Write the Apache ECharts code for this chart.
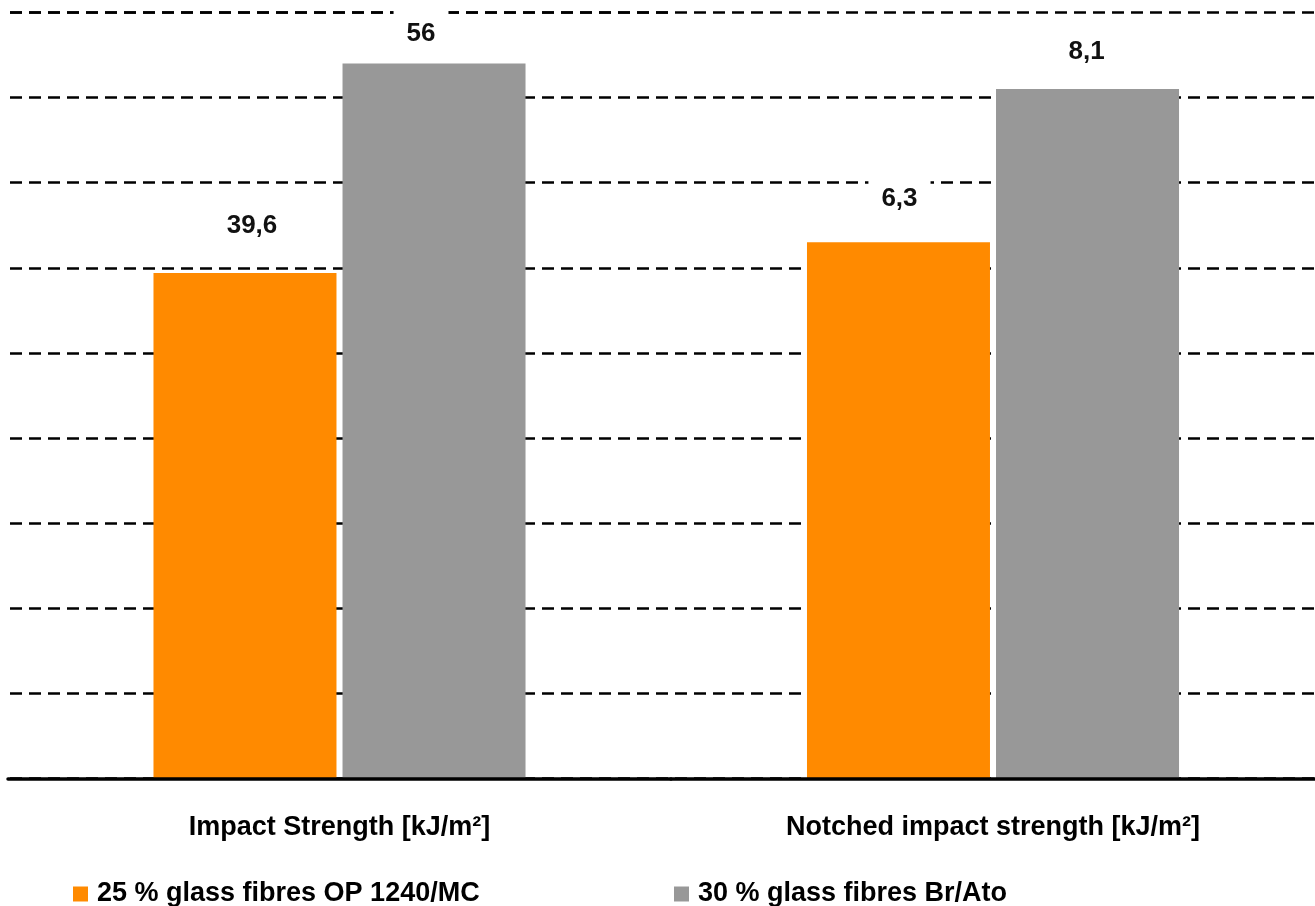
<!DOCTYPE html>
<html>
<head>
<meta charset="utf-8">
<title>Impact strength comparison</title>
<script src="https://cdn.jsdelivr.net/npm/echarts@6/dist/echarts.min.js"></script>
<style>
  html, body { margin: 0; padding: 0; background: #ffffff; }
  #chart { width: 1315px; height: 906px; }
</style>
</head>
<body>
<div id="chart"></div>
<script>
// Test categories (each one has its own value scale)
const categories = ['Impact Strength [kJ/m²]', 'Notched impact strength [kJ/m²]'];
// Materials
const seriesNames = ['25 % glass fibres OP 1240/MC', '30 % glass fibres Br/Ato'];
// Measured values per category
const op1240Values = [39.6, 6.3];
const brAtoValues = [56, 8.1];
// Upper bound of the value scale for each category (9 gridline steps)
const scaleMax = [60, 9];

const FONT = "'Liberation Sans', Arial, sans-serif";
const ORANGE = '#ff8a00';
const GREY = '#989898';

const fmt = p => String(p.value).replace('.', ',');

function valueLabel(distance, dx) {
  return {
    show: true,
    position: 'top',
    distance: distance,
    offset: [dx, 0],
    formatter: fmt,
    color: '#111',
    fontFamily: FONT,
    fontWeight: 'bold',
    fontSize: 26,
    lineHeight: 30,
    backgroundColor: '#ffffff',
    padding: [9, 13, 0, 13]
  };
}

// Two side-by-side plot areas sharing one baseline
const grids = [
  { left: 8, width: 663, top: 12.5, bottom: 127.5 },
  { left: 671, width: 657, top: 12.5, bottom: 127.5 }
];

const xAxes = categories.map((c, i) => ({
  type: 'category',
  gridIndex: i,
  data: [c],
  z: 10,
  axisLine: { show: true, lineStyle: { color: '#000', width: 3.5 } },
  axisTick: { show: false },
  axisLabel: {
    margin: 35.5,
    color: '#000',
    fontFamily: FONT,
    fontWeight: 'bold',
    fontSize: 27,
    lineHeight: 27
  }
}));

const yAxes = scaleMax.map((m, i) => ({
  type: 'value',
  gridIndex: i,
  min: 0,
  max: m,
  interval: m / 9,
  axisLine: { show: false },
  axisTick: { show: false },
  axisLabel: { show: false },
  splitLine: {
    show: true,
    lineStyle: { color: '#000', width: 2.5, type: [12, 7], dashOffset: i === 0 ? 17 : 15 }
  }
}));

// Placement of the value labels: [distance above bar, horizontal shift]
const labelPlace = [
  [[32.4, 7], [14.6, -13]],
  [[28.3, 1], [22.6, -1]]
];

const series = [];
categories.forEach((c, i) => {
  series.push({
    name: seriesNames[0],
    type: 'bar',
    xAxisIndex: i,
    yAxisIndex: i,
    data: [op1240Values[i]],
    barWidth: 183,
    barGap: '3.3%',
    itemStyle: { color: ORANGE },
    label: valueLabel(labelPlace[i][0][0], labelPlace[i][0][1])
  });
  series.push({
    name: seriesNames[1],
    type: 'bar',
    xAxisIndex: i,
    yAxisIndex: i,
    data: [brAtoValues[i]],
    barWidth: 183,
    barGap: '3.3%',
    itemStyle: { color: GREY },
    label: valueLabel(labelPlace[i][1][0], labelPlace[i][1][1])
  });
});

const legendText = {
  color: '#000',
  fontFamily: FONT,
  fontWeight: 'bold',
  fontSize: 27,
  lineHeight: 32,
  padding: [0, 0, 0, 4]
};

const option = {
  animation: false,
  backgroundColor: '#ffffff',
  grid: grids,
  xAxis: xAxes,
  yAxis: yAxes,
  legend: [
    { data: [seriesNames[0]], left: 68, top: 873, itemWidth: 15, itemHeight: 15, icon: 'rect', textStyle: legendText, selectedMode: false },
    { data: [seriesNames[1]], left: 669, top: 873, itemWidth: 15, itemHeight: 15, icon: 'rect', textStyle: legendText, selectedMode: false }
  ],
  series: series
};

const chart = echarts.init(document.getElementById('chart'), null, { renderer: 'canvas' });
chart.setOption(option);
</script>
</body>
</html>
